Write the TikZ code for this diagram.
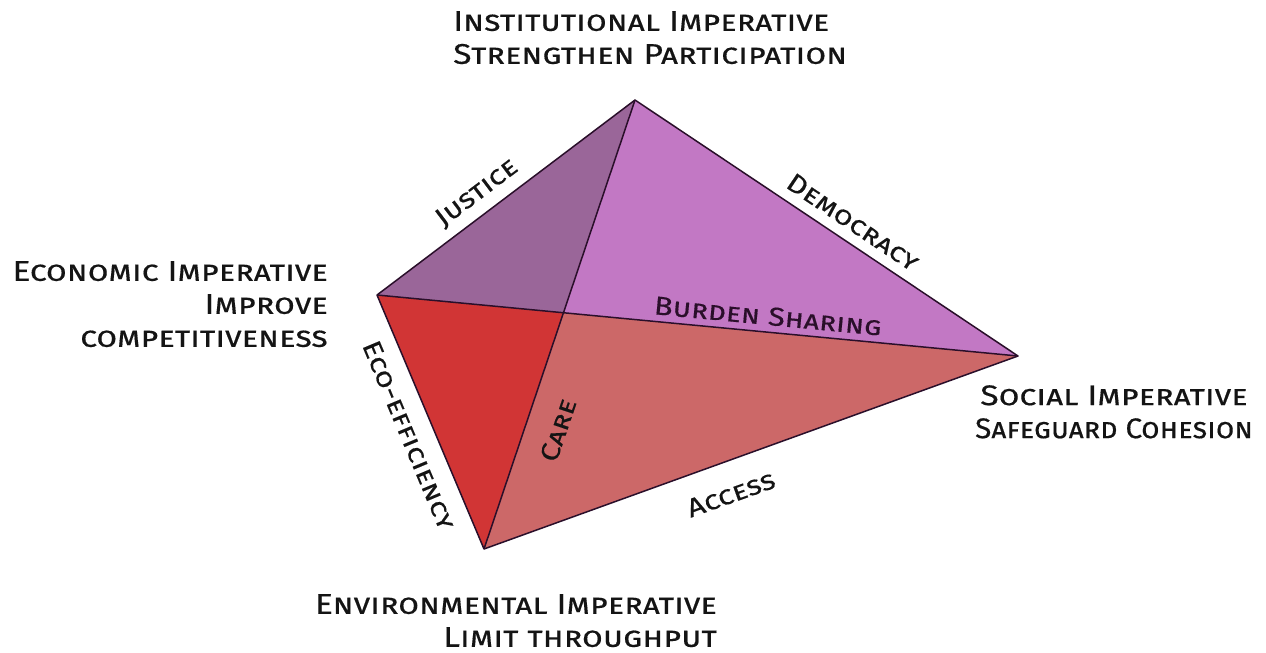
\documentclass[tikz,border=0pt]{standalone}
\usepackage{fontspec}
\usepackage{graphicx}
\setmainfont{Fira Sans}
\newfontfamily\labfont[FakeStretch=1.18, FakeBold=0.4]{Fira Sans}
\usetikzlibrary{calc}
\definecolor{faceTL}{HTML}{9A6699}
\definecolor{faceTR}{HTML}{C278C4}
\definecolor{faceBL}{HTML}{D13535}
\definecolor{faceBR}{HTML}{CC6868}
\definecolor{edgecol}{HTML}{2A0F2A}
\definecolor{txt}{HTML}{141414}
\begin{document}
\begin{tikzpicture}[x=1pt,y=-1pt,
  vlabel/.style={font=\labfont\fontsize{28.5}{33}\selectfont\scshape, text=txt, inner sep=0pt},
  elabel/.style={font=\labfont\fontsize{26}{30}\selectfont\scshape, text=txt, inner sep=0pt},
  edgeline/.style={draw=edgecol, line width=1.5pt, line join=round}]
\useasboundingbox (0,0) rectangle (1266,653);
\coordinate (T) at (635,100);
\coordinate (L) at (377,295);
\coordinate (R) at (1018,356);
\coordinate (B) at (484,549);
\coordinate (O) at (intersection of L--R and T--B);
\fill[faceTL] (L) -- (T) -- (O) -- cycle;
\fill[faceTR] (T) -- (R) -- (O) -- cycle;
\fill[faceBL] (L) -- (O) -- (B) -- cycle;
\fill[faceBR] (O) -- (R) -- (B) -- cycle;
\draw[edgeline] (L) -- (T) -- (R) -- (B) -- cycle;
\draw[edgeline] (L) -- (R);
\draw[edgeline] (T) -- (B);
% edge labels
\node[elabel, rotate=37.1] (justice) at (477,193) {Justice};
\node[elabel, rotate=-33.9] (democracy) at (853,222) {Democracy};
\node[elabel, rotate=-5.4, text=edgecol] (burden) at (768,316) {Burden Sharing};
\node[elabel, rotate=-67.3] (eco) at (409,435) {Eco-efficiency};
\node[elabel, rotate=71.4] (care) at (558,430) {Care};
\node[elabel, rotate=19.7] (access) at (731,494) {Access};
% vertex labels
\node[vlabel, anchor=north west, align=left] (inst) at (453,11) {Institutional Imperative\\Strengthen Participation};
\node[vlabel, anchor=north east, align=right] (econ) at (328,261) {Economic Imperative\\Improve\\competitiveness};
\node[vlabel, anchor=north, align=center] (soc) at (1114,385) {Social Imperative\\\scalebox{0.885}[1]{Safeguard Cohesion}};
\node[vlabel, anchor=north east, align=right] (env) at (717,594) {Environmental Imperative\\Limit throughput};
\end{tikzpicture}
\end{document}
